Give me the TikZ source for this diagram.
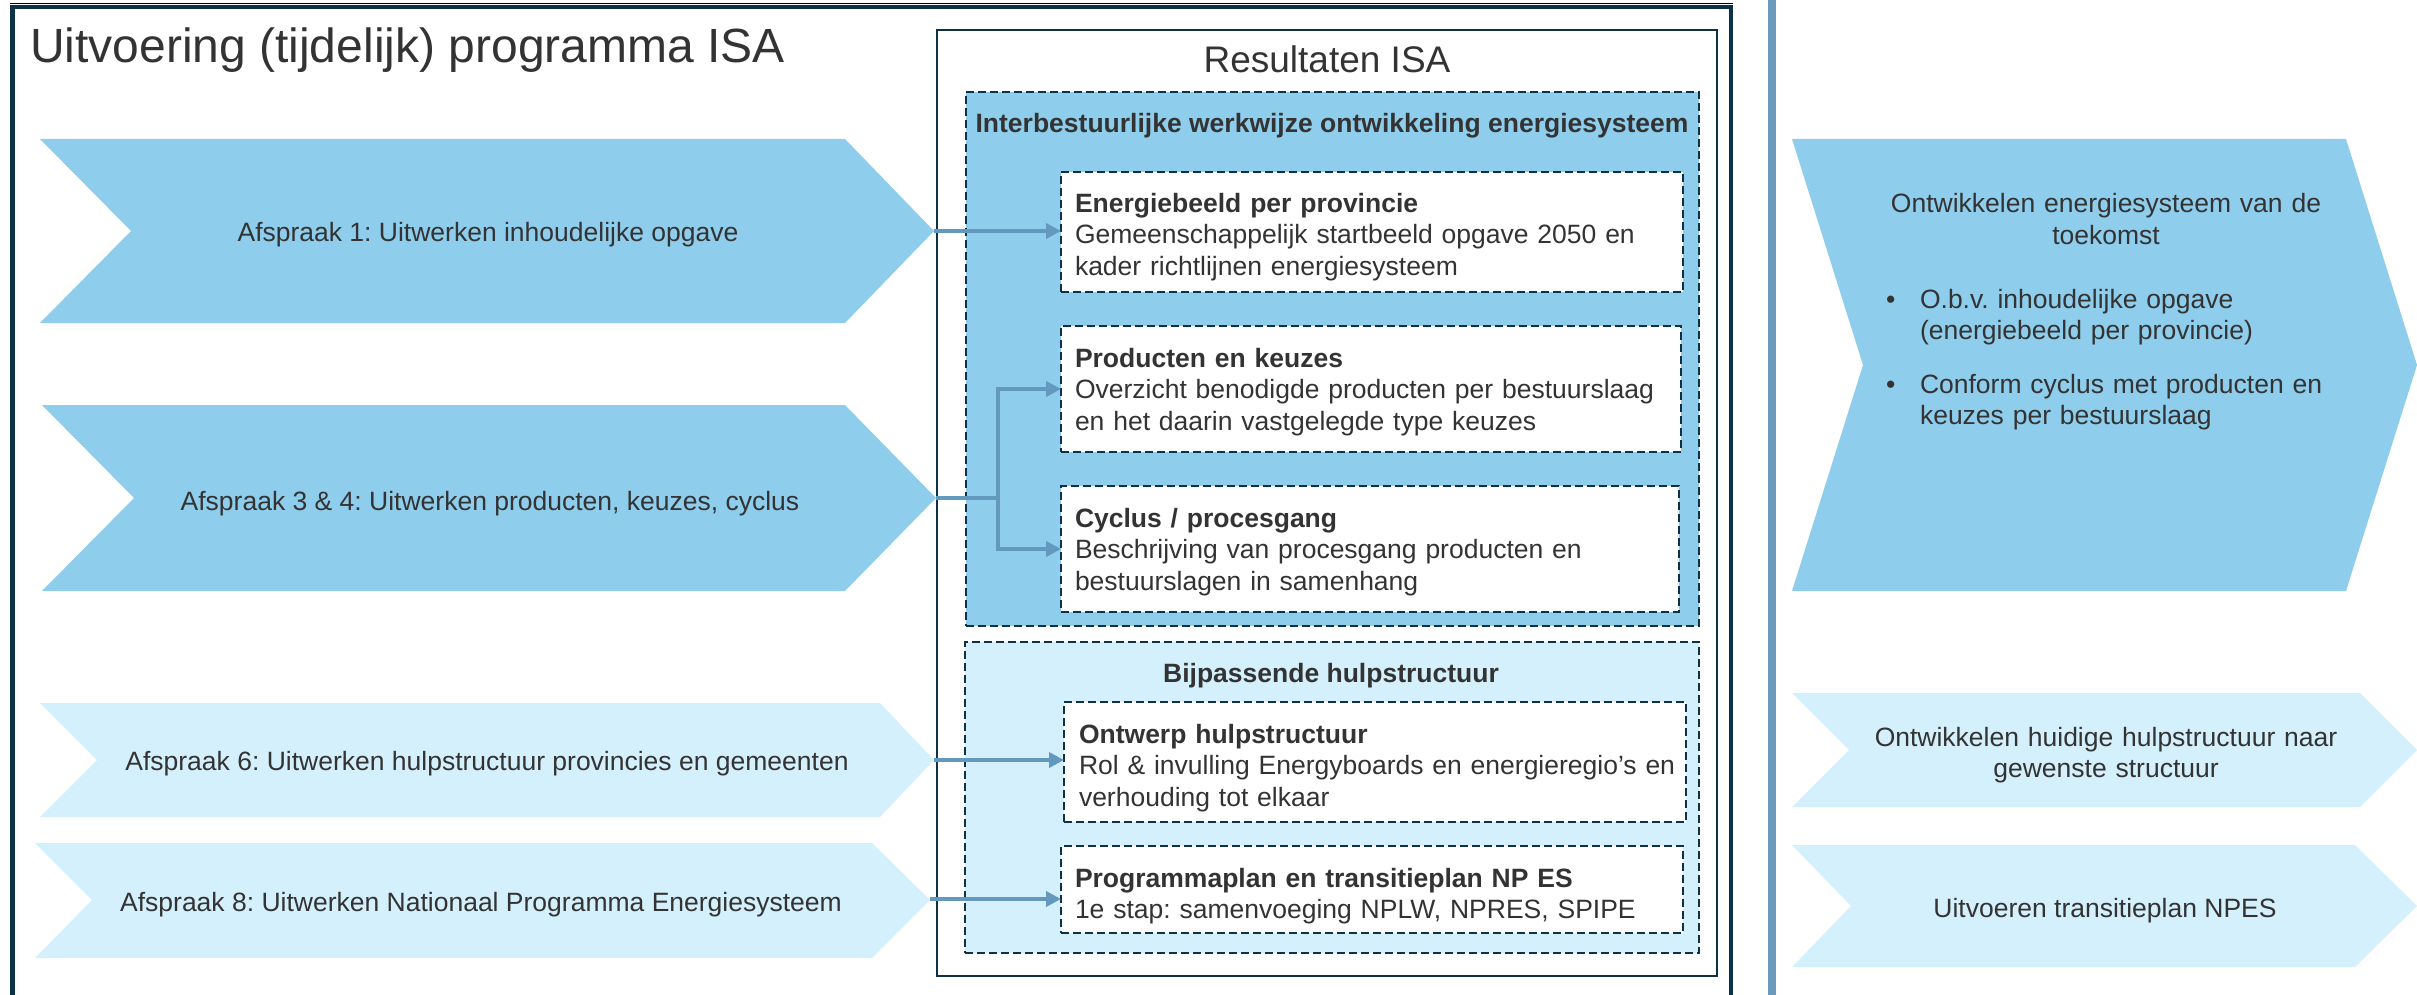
\documentclass[tikz,border=0pt]{standalone}
\usepackage{fontspec}
\setmainfont{Liberation Sans}
\usetikzlibrary{arrows.meta}
\definecolor{navy}{HTML}{0D3146}
\definecolor{skyb}{HTML}{8ECDEB}
\definecolor{paleb}{HTML}{D4F0FC}
\definecolor{steel}{HTML}{6A9BBD}
\definecolor{connc}{HTML}{6399BE}
\definecolor{txt}{HTML}{333333}
\definecolor{shade}{HTML}{A9BCC8}
\frenchspacing
\begin{document}
\begin{tikzpicture}[x=1pt,y=-1pt,
  every node/.style={inner sep=0pt, outer sep=0pt, text=txt},
  body/.style={font=\fontsize{26.5}{31.5}\selectfont},
  boldtitle/.style={font=\fontsize{26.5}{31.5}\selectfont\bfseries},
  boxtext/.style={body, text width=600pt, align=left, anchor=base west},
  dashbox/.style={draw=navy, line width=2.5pt, dash pattern=on 8pt off 4pt},
  wbox/.style={dashbox, fill=white, anchor=north west},
  darkchev/.style={fill=skyb},
  lightchev/.style={fill=paleb},
  conn/.style={draw=connc, line width=3.5pt, -{Triangle[length=15pt,width=15pt]}},
  connline/.style={draw=connc, line width=3.5pt}
]
\useasboundingbox (0,0) rectangle (2417,995);

% outer frame
\draw[shade, line width=1.5pt] (10,3.5) -- (1733,3.5);
\draw[navy, line width=4.5pt] (12.5,995) -- (12.5,7) -- (1731,7) -- (1731,995);
% right separator bar
\draw[steel, line width=8pt] (1772,0) -- (1772,995);

% title
\node[font=\fontsize{48}{56}\selectfont, anchor=base west] (title) at (30,63) {Uitvoering (tijdelijk) programma ISA};

% Resultaten box
\node[draw=navy, line width=2.5pt, fill=white, anchor=north west, minimum width=780pt, minimum height=946pt] (res) at (937,30) {};
\node[font=\fontsize{37}{44}\selectfont, anchor=base] (restitle) at (1327,73) {Resultaten ISA};

% dashed group boxes
\node[dashbox, fill=skyb, anchor=north west, minimum width=733pt, minimum height=534pt] (grp1) at (966,92) {};
\node[boldtitle, anchor=base] (grp1t) at (1332,133) {Interbestuurlijke werkwijze ontwikkeling energiesysteem};
\node[dashbox, fill=paleb, anchor=north west, minimum width=734pt, minimum height=311pt] (grp2) at (965,642) {};
\node[boldtitle, anchor=base] (grp2t) at (1331,682) {Bijpassende hulpstructuur};

% white result boxes
\node[wbox, minimum width=622pt, minimum height=120pt] (e1) at (1061,172) {};
\node[wbox, minimum width=620pt, minimum height=126pt] (e2) at (1061,326) {};
\node[wbox, minimum width=618pt, minimum height=126pt] (e3) at (1061,486) {};
\node[wbox, minimum width=622pt, minimum height=120pt] (e4) at (1064,702) {};
\node[wbox, minimum width=622pt, minimum height=87pt] (e5) at (1061,846) {};

\node[boxtext] (e1t) at (1075,212) {\textbf{Energiebeeld per provincie}\\Gemeenschappelijk startbeeld opgave 2050 en\\kader richtlijnen energiesysteem};
\node[boxtext] (e2t) at (1075,367) {\textbf{Producten en keuzes}\\Overzicht benodigde producten per bestuurslaag\\en het daarin vastgelegde type keuzes};
\node[boxtext] (e3t) at (1075,527) {\textbf{Cyclus / procesgang}\\Beschrijving van procesgang producten en\\bestuurslagen in samenhang};
\node[boxtext] (e4t) at (1079,743) {\textbf{Ontwerp hulpstructuur}\\Rol \& invulling Energyboards en energieregio’s en\\verhouding tot elkaar};
\node[boxtext] (e5t) at (1075,887) {\textbf{Programmaplan en transitieplan NP ES}\\1e stap: samenvoeging NPLW, NPRES, SPIPE};

% left chevrons
\fill[darkchev] (40,139) -- (845,139) -- (934,231) -- (845,323) -- (40,323) -- (131,231) -- cycle;
\fill[darkchev] (42,405) -- (845,405) -- (936,498) -- (845,591) -- (42,591) -- (134,498) -- cycle;
\fill[lightchev] (40,703) -- (880,703) -- (934,760) -- (880,817) -- (40,817) -- (97,760) -- cycle;
\fill[lightchev] (35,843) -- (872,843) -- (930,900) -- (872,958) -- (35,958) -- (92,900) -- cycle;
\coordinate (a1tip) at (934,231);
\coordinate (a2tip) at (936,498);
\coordinate (a3tip) at (934,760);
\coordinate (a4tip) at (930,899);
\node[body, anchor=base] (a1) at (488,241) {Afspraak 1: Uitwerken inhoudelijke opgave};
\node[body, anchor=base] (a2) at (490,510) {Afspraak 3 \& 4: Uitwerken producten, keuzes, cyclus};
\node[body, anchor=base] (a3) at (487,770) {Afspraak 6: Uitwerken hulpstructuur provincies en gemeenten};
\node[body, anchor=base] (a4) at (481,911) {Afspraak 8: Uitwerken Nationaal Programma Energiesysteem};

% right chevrons
\fill[darkchev] (1792,139) -- (2346,139) -- (2417,365) -- (2346,591) -- (1792,591) -- (1863,365) -- cycle;
\fill[lightchev] (1792,693) -- (2360,693) -- (2417,750) -- (2360,807) -- (1792,807) -- (1849,750) -- cycle;
\fill[lightchev] (1792,845) -- (2355,845) -- (2417,906) -- (2355,967) -- (1792,967) -- (1851,906) -- cycle;
\node[body, text width=480pt, align=center, anchor=base] (r1t) at (2106,213) {Ontwikkelen energiesysteem van de\\toekomst};
\node[body, anchor=base west] (r1b1) at (1886,308) {•};
\node[body, text width=440pt, align=left, anchor=base west] (r1i1) at (1920,308) {O.b.v. inhoudelijke opgave\\(energiebeeld per provincie)};
\node[body, anchor=base west] (r1b2) at (1886,393) {•};
\node[body, text width=440pt, align=left, anchor=base west] (r1i2) at (1920,393) {Conform cyclus met producten en\\keuzes per bestuurslaag};
\node[body, text width=480pt, align=center, anchor=base] (r2t) at (2106,746) {Ontwikkelen huidige hulpstructuur naar\\gewenste structuur};
\node[body, anchor=base] (r3t) at (2105,917) {Uitvoeren transitieplan NPES};

% connectors
\coordinate (split) at (998,498);
\draw[conn] (a1tip) -- (a1tip -| e1.west);
\draw[connline] (a2tip) -- (split);
\draw[conn] (split) |- (e2.west);
\draw[conn] (split) |- (e3.west);
\draw[conn] (a3tip) -- (a3tip -| e4.west);
\draw[conn] (a4tip) -- (a4tip -| e5.west);
\end{tikzpicture}
\end{document}
